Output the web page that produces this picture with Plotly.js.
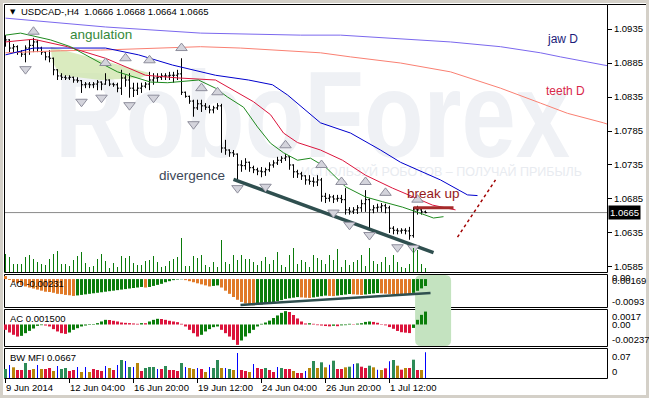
<!DOCTYPE html>
<html><head><meta charset="utf-8">
<script src="https://cdn.plot.ly/plotly-3.0.1.min.js"></script>
<style>
html,body{margin:0;padding:0;background:#fff;}
#wrap{position:relative;width:649px;height:398px;overflow:hidden;background:#fff;}
#frame{position:absolute;left:0;top:0;width:649px;height:398px;box-sizing:border-box;border:3px solid #d4d0c8;}
#wm1{position:absolute;left:55px;top:67px;font-family:'Liberation Sans',Arial,sans-serif;font-weight:bold;font-size:122px;line-height:0.8;color:#eff1f5;transform:scaleX(0.8);transform-origin:0 0;white-space:nowrap;}
#wm2{position:absolute;right:67px;top:166px;font-family:'Liberation Sans',Arial,sans-serif;font-size:12.5px;line-height:1;color:#e8ebf0;white-space:nowrap;}
#chart{position:absolute;left:0;top:0;width:649px;height:398px;}
</style>
</head><body>
<div id="wrap">
<div id="frame"></div>
<div id="wm1">RoboForex</div>
<div id="wm2">ИСПОЛЬЗУЙ РОБОТОВ – ПОЛУЧАЙ ПРИБЫЛЬ</div>
<div id="chart"></div>
</div>
<script>
// ---------- DATA (USDCAD H4) ----------
const open = [1.0922,1.0919,1.0907,1.0909,1.0901,1.0898,1.0907,1.0911,1.0916,1.0907,
1.0901,1.0894,1.0892,1.0875,1.0866,1.0864,1.0863,1.0864,1.0860,1.0859,
1.0853,1.0854,1.0853,1.0854,1.0857,1.0854,1.0860,1.0854,1.0853,1.0848,
1.0863,1.0860,1.0848,1.0845,1.0848,1.0851,1.0854,1.0860,1.0863,1.0864,
1.0866,1.0866,1.0867,1.0867,1.0869,1.0842,1.0836,1.0829,1.0819,1.0825,
1.0822,1.0820,1.0816,1.0819,1.0822,1.0760,1.0757,1.0753,1.0751,1.0735,
1.0734,1.0739,1.0731,1.0728,1.0726,1.0725,1.0728,1.0735,1.0738,1.0742,
1.0745,1.0747,1.0735,1.0725,1.0722,1.0719,1.0713,1.0711,1.0710,1.0713,
1.0689,1.0686,1.0688,1.0685,1.0686,1.0684,1.0669,1.0667,1.0669,1.0672,
1.0678,1.0684,1.0669,1.0672,1.0673,1.0675,1.0672,1.0642,1.0639,1.0638,
1.0639,1.0638,1.0631,1.0669,1.0669,1.0666];
const high = [1.0926,1.0920,1.0913,1.0911,1.0904,1.0911,1.0919,1.0922,1.0919,1.0909,
1.0902,1.0904,1.0893,1.0876,1.0870,1.0867,1.0867,1.0865,1.0864,1.0860,
1.0857,1.0857,1.0857,1.0860,1.0858,1.0870,1.0861,1.0856,1.0856,1.0875,
1.0867,1.0870,1.0856,1.0856,1.0856,1.0857,1.0872,1.0870,1.0870,1.0870,
1.0870,1.0872,1.0872,1.0875,1.0892,1.0843,1.0837,1.0831,1.0831,1.0831,
1.0826,1.0823,1.0822,1.0826,1.0825,1.0772,1.0758,1.0757,1.0752,1.0742,
1.0745,1.0740,1.0734,1.0731,1.0732,1.0731,1.0739,1.0742,1.0747,1.0748,
1.0751,1.0748,1.0736,1.0728,1.0725,1.0720,1.0720,1.0717,1.0720,1.0716,
1.0694,1.0692,1.0691,1.0691,1.0691,1.0701,1.0673,1.0673,1.0676,1.0684,
1.0698,1.0686,1.0676,1.0678,1.0679,1.0678,1.0675,1.0645,1.0642,1.0642,
1.0642,1.0644,1.0673,1.0675,1.0670,1.0668];
const low = [1.0909,1.0901,1.0900,1.0897,1.0894,1.0886,1.0897,1.0901,1.0901,1.0897,
1.0889,1.0886,1.0867,1.0860,1.0860,1.0860,1.0860,1.0856,1.0856,1.0841,
1.0848,1.0848,1.0848,1.0845,1.0845,1.0853,1.0851,1.0850,1.0842,1.0838,
1.0850,1.0834,1.0835,1.0838,1.0841,1.0848,1.0845,1.0853,1.0857,1.0860,
1.0860,1.0860,1.0856,1.0860,1.0838,1.0834,1.0825,1.0806,1.0816,1.0813,
1.0816,1.0811,1.0811,1.0816,1.0753,1.0750,1.0747,1.0747,1.0713,1.0725,
1.0728,1.0725,1.0723,1.0720,1.0717,1.0719,1.0725,1.0731,1.0735,1.0738,
1.0741,1.0728,1.0716,1.0716,1.0713,1.0706,1.0706,1.0703,1.0704,1.0681,
1.0679,1.0681,1.0679,1.0681,1.0679,1.0662,1.0662,1.0663,1.0663,1.0666,
1.0666,1.0639,1.0664,1.0666,1.0666,1.0664,1.0635,1.0633,1.0633,1.0634,
1.0633,1.0625,1.0628,1.0662,1.0662,1.0664];
const close = [1.0919,1.0907,1.0909,1.0901,1.0898,1.0907,1.0911,1.0916,1.0907,1.0901,
1.0894,1.0892,1.0875,1.0866,1.0864,1.0863,1.0864,1.0860,1.0859,1.0853,
1.0854,1.0853,1.0854,1.0857,1.0854,1.0860,1.0854,1.0853,1.0848,1.0863,
1.0860,1.0848,1.0845,1.0848,1.0851,1.0854,1.0860,1.0863,1.0864,1.0866,
1.0866,1.0867,1.0867,1.0869,1.0842,1.0836,1.0829,1.0819,1.0825,1.0822,
1.0820,1.0816,1.0819,1.0822,1.0760,1.0757,1.0753,1.0751,1.0735,1.0734,
1.0739,1.0731,1.0728,1.0726,1.0725,1.0728,1.0735,1.0738,1.0742,1.0745,
1.0747,1.0735,1.0725,1.0722,1.0719,1.0713,1.0711,1.0710,1.0713,1.0689,
1.0686,1.0688,1.0685,1.0686,1.0684,1.0669,1.0667,1.0669,1.0672,1.0678,
1.0684,1.0669,1.0672,1.0673,1.0675,1.0672,1.0642,1.0639,1.0638,1.0639,
1.0638,1.0631,1.0669,1.0669,1.0666,1.0665];
const tickVolume = [180,150,80,80,80,150,170,130,100,80,
70,130,180,210,80,80,60,120,160,200,
90,50,60,130,180,110,40,90,50,160,
140,160,90,70,70,110,120,160,100,50,
60,110,130,150,340,60,60,160,140,170,
70,50,100,50,320,100,80,170,120,170,
130,130,100,70,110,150,80,120,200,70,
50,170,240,80,120,100,50,170,140,120,
80,170,120,230,50,120,70,100,120,170,
60,240,110,80,100,150,70,170,100,50,
40,80,240,220,80,40];
// Awesome Oscillator
const ao = [0.00100,-0.00030,-0.00105,-0.00141,-0.00210,-0.00246,-0.00281,-0.00315,-0.00351,-0.00386,
-0.00421,-0.00431,-0.00456,-0.00491,-0.00500,-0.00527,-0.00539,-0.00561,-0.00544,-0.00527,
-0.00509,-0.00491,-0.00473,-0.00456,-0.00439,-0.00421,-0.00403,-0.00386,-0.00368,-0.00351,
-0.00334,-0.00315,-0.00298,-0.00281,-0.00263,-0.00281,-0.00263,-0.00228,-0.00193,-0.00158,
-0.00105,-0.00070,-0.00035,-0.00017,-0.00010,-0.00035,-0.00070,-0.00105,-0.00141,-0.00176,
-0.00210,-0.00246,-0.00228,-0.00210,-0.00281,-0.00386,-0.00491,-0.00597,-0.00690,-0.00760,
-0.00815,-0.00850,-0.00870,-0.00860,-0.00845,-0.00825,-0.00800,-0.00772,-0.00737,-0.00702,
-0.00660,-0.00640,-0.00620,-0.00600,-0.00610,-0.00620,-0.00628,-0.00610,-0.00590,-0.00570,
-0.00550,-0.00560,-0.00568,-0.00550,-0.00532,-0.00515,-0.00498,-0.00508,-0.00518,-0.00528,
-0.00512,-0.00496,-0.00480,-0.00465,-0.00475,-0.00485,-0.00495,-0.00505,-0.00512,-0.00518,
-0.00522,-0.00525,-0.00460,-0.00390,-0.00310,-0.00231];
// Accelerator Oscillator
const ac = [-0.00062,-0.00093,-0.00120,-0.00140,-0.00132,-0.00101,-0.00074,-0.00047,-0.00016,-0.00008,
-0.00012,-0.00023,-0.00054,-0.00081,-0.00101,-0.00109,-0.00093,-0.00062,-0.00043,-0.00023,
-0.00012,-0.00006,0.00006,0.00016,0.00035,0.00054,0.00052,0.00043,0.00035,0.00023,
0.00019,0.00016,0.00012,0.00008,0.00016,0.00015,0.00035,0.00054,0.00066,0.00064,
0.00054,0.00043,0.00035,0.00027,0.00008,-0.00023,-0.00062,-0.00101,-0.00140,-0.00120,
-0.00081,-0.00054,-0.00031,-0.00023,-0.00062,-0.00101,-0.00140,-0.00179,-0.00237,-0.00186,
-0.00140,-0.00101,-0.00062,-0.00023,0.00008,0.00023,0.00045,0.00075,0.00105,0.00135,
0.00155,0.00145,0.00110,0.00070,0.00035,0.00012,0.00015,0.00008,-0.00008,-0.00012,
-0.00018,-0.00022,-0.00015,-0.00020,-0.00010,-0.00008,0.00008,0.00004,0.00010,0.00015,
0.00030,0.00035,0.00030,0.00020,0.00005,-0.00010,-0.00030,-0.00050,-0.00075,-0.00090,
-0.00095,-0.00100,-0.00040,0.00054,0.00112,0.00150];
// Market Facilitation Index and its colour class (g=green, o=fade, b=fake, r=squat)
const mfi = [0.0234,0.0338,0.0278,0.0208,0.0208,0.0390,0.0208,0.0234,0.0338,0.0234,
0.0234,0.0260,0.0182,0.0312,0.0234,0.0260,0.0182,0.0208,0.0286,0.0156,
0.0286,0.0156,0.0234,0.0208,0.0182,0.0312,0.0260,0.0208,0.0338,0.0468,
0.0442,0.0286,0.0286,0.0390,0.0182,0.0260,0.0286,0.0286,0.0234,0.0234,
0.0312,0.0208,0.0208,0.0182,0.0390,0.0286,0.0260,0.0234,0.0260,0.0234,
0.0156,0.0286,0.0260,0.0468,0.0260,0.0260,0.0234,0.0208,0.0650,0.0208,
0.0182,0.0156,0.0364,0.0260,0.0234,0.0260,0.0208,0.0156,0.0286,0.0260,
0.0234,0.0234,0.0182,0.0130,0.0130,0.0182,0.0260,0.0442,0.0260,0.0408,
0.0278,0.0346,0.0450,0.0234,0.0234,0.0278,0.0294,0.0364,0.0382,0.0294,
0.0260,0.0320,0.0278,0.0216,0.0208,0.0252,0.0434,0.0468,0.0320,0.0216,
0.0260,0.0260,0.0476,0.0208,0.0208,0.0667];
const mfiClass = ['g','b','o','r','r','g','r','o','b','o',
'r','r','o','b','g','g','r','r','b','o',
'b','o','r','r','r','b','o','r','b','g',
'b','g','b','o','r','g','g','g','b','r',
'g','r','r','r','g','b','o','o','b','r',
'o','b','g','g','o','b','g','o','b','r',
'r','o','b','r','r','g','r','r','b','g',
'r','r','o','r','r','b','o','g','o','g',
'o','b','g','r','r','o','g','b','g','r',
'r','g','o','b','o','r','b','g','o','r',
'o','r','g','r','o','b'];
// Alligator lines (bar position, price)
const jawDX = [0,25,48.75,73.75,83.75,98.75,111.25,123.75,133.75,138.75,148.75,150.5];
const jawDY = [1.0951,1.0938,1.0929,1.0926,1.0926,1.0920,1.0916,1.0909,1.0900,1.0894,1.0883,1.0881];
const teethDX = [0,13.75,23.75,36.25,48.75,58.75,68.75,78.75,86.25,98.75,111.25,123.75,133.75,140.5,149.5,150.5];
const teethDY = [1.0900,1.0903,1.0904,1.0907,1.0909,1.0907,1.0903,1.0900,1.0894,1.0885,1.0872,1.0848,1.0826,1.0811,1.0797,1.0795];
const jawX = [0,7,25,33.25,41.75,52.5,60.75,66.75,70.5,78.75,86.25,93.75,98.75,105,108.75,115.5,118];
const jawY = [1.0897,1.0907,1.0907,1.0897,1.0882,1.0867,1.0860,1.0853,1.0838,1.0797,1.0782,1.0757,1.0739,1.0723,1.0713,1.0691,1.0690];
const teethX = [0,7,15.5,25,35,43.25,52.5,57,62,66.25,69.5,73,78.75,84.25,90,96.75,101.75,106.75,112.5];
const teethY = [1.0916,1.0920,1.0909,1.0892,1.0867,1.0863,1.0860,1.0845,1.0828,1.0809,1.0782,1.0768,1.0757,1.0742,1.0720,1.0701,1.0688,1.0676,1.0669];
const lipsX = [0,3.75,11.25,16.25,23.75,28,36.25,40.5,48.25,52.5,55.5,59.5,63,66.25,69.5,73,76.25,80,85,90,94.25,99.25,103.25,107,109.5];
const lipsY = [1.0926,1.0929,1.0919,1.0909,1.0885,1.0872,1.0857,1.0856,1.0860,1.0848,1.0835,1.0820,1.0791,1.0767,1.0753,1.0742,1.0745,1.0732,1.0703,1.0688,1.0681,1.0673,1.0665,1.0657,1.0659];
// Fractals
const fracUpX = [7,25,30,36,44,49,53,70,79,84,90,95,103];
const fracUpY = [1.0931,1.0885,1.0892,1.0889,1.0907,1.0848,1.0842,1.0764,1.0735,1.0710,1.0710,1.0694,1.0684];
const fracDnX = [5,19,24,31,37,47,58,65,82,86,91,98,102];
const fracDnY = [1.0876,1.0828,1.0834,1.0823,1.0834,1.0795,1.0701,1.0703,1.0665,1.0647,1.0632,1.0614,1.0613];
// Analyst drawings
const divLineX = [57,107], divLineY = [1.0714,1.0606];
const breakLineX = [102,112], breakLineY = [1.0672,1.0672];
const targetLineX = [113,122.5], targetLineY = [1.0629,1.0713];
const aoLineX = [58.75,106.25], aoLineY = [-0.0086,-0.0046];
const angulationX = [11.25,36.25,33.75,23.75,13.75,11.75];
const angulationY = [1.0909,1.0870,1.0863,1.0860,1.0867,1.0886];
const lastPrice = 1.0665;
// Axis labels
const priceTicks = [1.0935,1.0885,1.0835,1.0785,1.0735,1.0685,1.0635,1.0585];
const timeTickPos = [0,16,32,48,64,80,96];
const timeTickText = ['9 Jun 2014','12 Jun 04:00','16 Jun 20:00','19 Jun 12:00','24 Jun 04:00','26 Jun 20:00','1 Jul 12:00'];

// ---------- DRAWING ----------
const FONT = 'Liberation Sans, Arial, sans-serif';
const X0 = 4, X1 = 607, Y0 = 4, Y1 = 378;
const fx = px => (px - X0) / (X1 - X0);
const fy = py => (Y1 - py) / (Y1 - Y0);
const idx = close.map((_, i) => i);

const GREEN = '#0b7d0b', ORANGE = '#e07a28', RED = '#dc143c';
const upDown = (arr, upC, dnC) => arr.map((v, i) => (i > 0 && v > arr[i - 1]) ? upC : dnC);
const mfiColor = {g:'#2e8b57', o:'#b8860b', b:'#0000ff', r:'#dc143c'};
const thickI = idx.filter(i => mfiClass[i] !== 'b');
const thinI = idx.filter(i => mfiClass[i] === 'b');

const line = (x, y, color, width, extra) => Object.assign({type:'scatter', mode:'lines', x, y, line:{color, width}, hoverinfo:'skip'}, extra || {});

const data = [
  {type:'bar', x: idx, y: tickVolume, yaxis:'y5', width:0.25, marker:{color:'#0a7a0a', line:{width:0}}, hoverinfo:'skip'},
  {type:'ohlc', x: idx, open, high, low, close, xaxis:'x', yaxis:'y', tickwidth:0.4,
   increasing:{line:{color:'#000', width:1}}, decreasing:{line:{color:'#000', width:1}}, hoverinfo:'skip'},
  line(jawDX, jawDY, '#7b68ee', 1),
  line(teethDX, teethDY, '#fa8072', 1),
  line(jawX, jawY, '#0000cd', 1),
  line(teethX, teethY, '#dc143c', 1),
  line(lipsX, lipsY, '#1f8a1f', 1),
  line(divLineX, divLineY, '#2f4f4f', 3.5),
  line(breakLineX, breakLineY, '#a52a2a', 3),
  line(targetLineX, targetLineY, '#a00000', 1.5, {line:{color:'#a00000', width:1.5, dash:'dot'}}),
  {type:'scatter', mode:'markers', x: fracUpX, y: fracUpY, hoverinfo:'skip',
   marker:{symbol:'triangle-up', size:10, color:'#d4d4dc', line:{color:'#8e8e9c', width:1}}},
  {type:'scatter', mode:'markers', x: fracDnX, y: fracDnY, hoverinfo:'skip',
   marker:{symbol:'triangle-down', size:10, color:'#d4d4dc', line:{color:'#8e8e9c', width:1}}},
  {type:'bar', x: idx, y: ao, yaxis:'y2', width:0.75, marker:{color: upDown(ao, GREEN, ORANGE), line:{width:0}}, hoverinfo:'skip'},
  line(aoLineX, aoLineY, '#2f4f4f', 2.5, {yaxis:'y2'}),
  {type:'bar', x: idx, y: ac, yaxis:'y3', width:0.75, marker:{color: upDown(ac, GREEN, RED), line:{width:0}}, hoverinfo:'skip'},
  {type:'bar', x: thickI, y: thickI.map(i => mfi[i]), yaxis:'y4', width:0.75,
   marker:{color: thickI.map(i => mfiColor[mfiClass[i]]), line:{width:0}}, hoverinfo:'skip'},
  {type:'bar', x: thinI, y: thinI.map(i => mfi[i]), yaxis:'y4', width:0.25,
   marker:{color: thinI.map(i => mfiColor[mfiClass[i]]), line:{width:0}}, hoverinfo:'skip'}
];

const panel = (top, bottom) => ({type:'rect', xref:'paper', yref:'paper', layer:'below',
  x0: fx(4.5), x1: fx(607.5), y0: fy(bottom + 0.5), y1: fy(top + 0.5), line:{color:'#000', width:1}});

// rounded highlight across AO/AC
const rx0 = 102.4, rx1 = 111.4, ry0 = fy(346), ry1 = fy(275), cr = 1.5, crY = 6 / 374;
const roundPath = `M ${rx0+cr},${ry1} L ${rx1-cr},${ry1} Q ${rx1},${ry1} ${rx1},${ry1-crY} L ${rx1},${ry0+crY} Q ${rx1},${ry0} ${rx1-cr},${ry0} L ${rx0+cr},${ry0} Q ${rx0},${ry0} ${rx0},${ry0+crY} L ${rx0},${ry1-crY} Q ${rx0},${ry1} ${rx0+cr},${ry1} Z`;
const angPath = 'M ' + angulationX.map((x, i) => x + ',' + angulationY[i]).join(' L ') + ' Z';

const shapes = [
  {type:'path', xref:'x', yref:'y', path: angPath, fillcolor:'rgba(205,228,170,0.75)', line:{width:0}, layer:'below'},
  {type:'line', xref:'paper', yref:'y', x0:0, x1:1, y0:lastPrice, y1:lastPrice, line:{color:'#8a8a8a', width:1}, layer:'below'},
  panel(4, 272), panel(274, 307), panel(309, 346), panel(348, 378),
  {type:'line', xref:'paper', yref:'paper', x0: fx(607.5), x1: fx(646), y0: fy(4.5), y1: fy(4.5), line:{color:'#000', width:1}, layer:'below'},
  {type:'path', xref:'x', yref:'paper', path: roundPath, fillcolor:'#c4e3c0', line:{width:0}, layer:'below'}
];

const txt = (text, px, py, o) => Object.assign({text, x: fx(px), y: fy(py), xref:'paper', yref:'paper',
  showarrow:false, xanchor:'left', yanchor:'middle', font:{family:FONT, size:9.5, color:'#000'}}, o || {});

const annotations = [
  txt('▼', 8, 12, {font:{family:'DejaVu Sans', size:7, color:'#000'}}),
  txt('USDCAD-,H4  1.0666 1.0668 1.0664 1.0665', 19, 12),
  txt('angulation', 101, 34, {xanchor:'center', font:{family:FONT, size:13.5, color:'#35893a'}}),
  txt('divergence', 192, 175, {xanchor:'center', font:{family:FONT, size:13.5, color:'#3c4858'}}),
  txt('break up', 433, 193, {xanchor:'center', font:{family:FONT, size:13.5, color:'#951818'}}),
  txt('jaw D', 562, 39, {xanchor:'center', font:{family:FONT, size:12, color:'#1c1c7a'}}),
  txt('teeth D', 565, 91, {xanchor:'center', font:{family:FONT, size:12, color:'#d8284a'}}),
  txt('AO -0.00231', 8, 283),
  txt('AC 0.001500', 8, 318),
  txt('BW MFI 0.0667', 8, 357),
  txt('0.00', 610, 277.5), txt('0.00169', 610, 280),
  txt('-0.0093', 610, 301),
  txt('0.0017', 610, 316), txt('0.00', 610, 324), txt('-0.00237', 610, 339),
  txt('0.07', 610, 356), txt('0', 610, 371),
  {text: lastPrice.toFixed(4), x: fx(608), y: lastPrice, xref:'paper', yref:'y', showarrow:false,
   xanchor:'left', yanchor:'middle', bgcolor:'#000', borderpad:1, font:{family:FONT, size:9.5, color:'#fff'}}
].concat(timeTickPos.map((p, k) => ({text: timeTickText[k], x: p, y: fy(387), xref:'x', yref:'paper',
  showarrow:false, xanchor:'left', yanchor:'middle', xshift:-2, font:{family:FONT, size:9.5, color:'#000'}})));

const hidden = {showgrid:false, zeroline:false, showticklabels:false, showline:false, ticks:'', fixedrange:true};
const layout = {
  width:649, height:398, autosize:false,
  margin:{l:4, r:42, t:4, b:20, pad:0},
  paper_bgcolor:'rgba(0,0,0,0)', plot_bgcolor:'rgba(0,0,0,0)',
  showlegend:false, barmode:'overlay', hovermode:false,
  font:{family:FONT, size:9.5, color:'#000'},
  xaxis:{range:[-0.375, 150.375], anchor:'y4', showgrid:false, zeroline:false, showline:false,
    tickmode:'array', tickvals: timeTickPos, ticks:'outside', ticklen:4, tickcolor:'#000', tickwidth:1,
    showticklabels:false, rangeslider:{visible:false}, fixedrange:true},
  yaxis:{domain:[fy(272), 1], range:[1.05776, 1.09718], side:'right', anchor:'x',
    tickmode:'array', tickvals: priceTicks, tickformat:'.4f', ticks:'outside', ticklen:4, tickcolor:'#000',
    tickfont:{family:FONT, size:9.5, color:'#000'}, showgrid:false, zeroline:false, showline:false, fixedrange:true},
  yaxis5:Object.assign({overlaying:'y', range:[0, 2680], anchor:'x', side:'right'}, hidden),
  yaxis2:Object.assign({domain:[fy(307), fy(274)], range:[-0.0093, 0.00169], anchor:'x'}, hidden),
  yaxis3:Object.assign({domain:[fy(346), fy(309)], range:[-0.0025, 0.0018], anchor:'x'}, hidden),
  yaxis4:Object.assign({domain:[0, fy(348)], range:[0, 0.078], anchor:'x'}, hidden),
  shapes, annotations
};

Plotly.newPlot('chart', data, layout, {staticPlot:true, displayModeBar:false});
</script>
</body></html>
